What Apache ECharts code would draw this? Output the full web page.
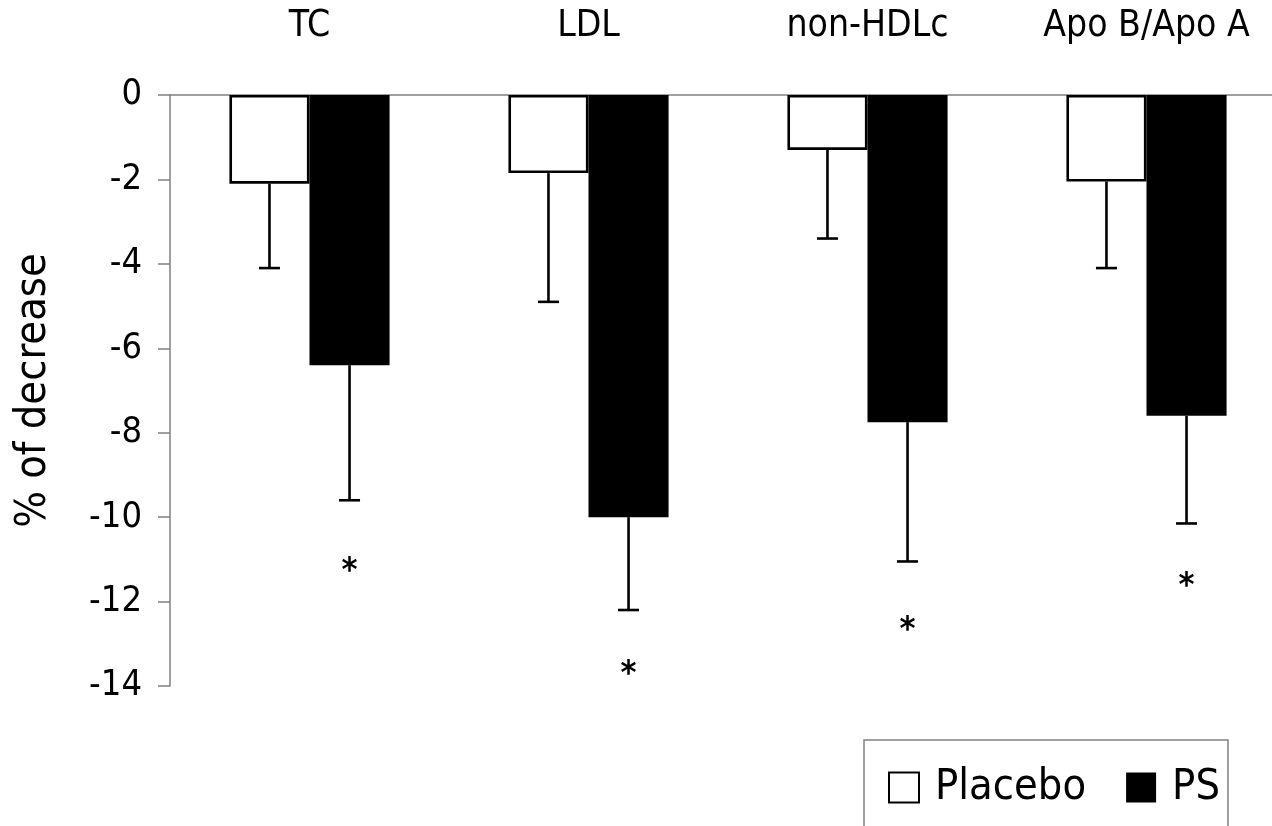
<!DOCTYPE html>
<html>
<head>
<meta charset="utf-8">
<script src="https://cdn.jsdelivr.net/npm/echarts@6/dist/echarts.min.js"></script>
<style>
  html, body { margin: 0; padding: 0; background: #fff; }
  #chart { width: 1272px; height: 826px; }
</style>
</head>
<body>
<div id="chart"></div>
<script>
// Lipid measures (percentage change from baseline)
const categories = ['TC', 'LDL', 'non-HDLc', 'Apo B/Apo A'];
const seriesNames = ['Placebo', 'PS'];
const placeboMean = [-2.1, -1.85, -1.3, -2.05];
const placeboErrorEnd = [-4.1, -4.9, -3.4, -4.1];
const psMean = [-6.4, -10.0, -7.75, -7.6];
const psErrorEnd = [-9.6, -12.2, -11.05, -10.15];
// Significance markers below the PS bars
const starLevel = [-11.3, -13.75, -12.7, -11.65];
const yTicks = { min: -14, max: 0, step: 2 };

const FONT = '"DejaVu Sans Condensed", "DejaVu Sans", sans-serif';
const CAT_GAP = 0.426;   // fraction of each category band left empty

const chart = echarts.init(document.getElementById('chart'), null, { renderer: 'canvas' });

// Offset of each bar centre from its category centre
function barOffset(api, seriesIdx) {
  const band = api.size([1, 0])[0];
  const barW = band * (1 - CAT_GAP) / 2;
  return seriesIdx === 0 ? -barW / 2 : barW / 2;
}

function errorBarItem(means, ends, seriesIdx) {
  return function (params, api) {
    const i = api.value(0);
    const dx = barOffset(api, seriesIdx);
    const top = api.coord([i, means[i]]);
    const bot = api.coord([i, ends[i]]);
    const x = top[0] + dx;
    const cap = 10.5;
    const style = { stroke: '#000', lineWidth: 2.6 };
    return {
      type: 'group',
      children: [
        { type: 'line', shape: { x1: x, y1: top[1], x2: x, y2: bot[1] }, style: style },
        { type: 'line', shape: { x1: x - cap, y1: bot[1], x2: x + cap, y2: bot[1] }, style: style }
      ]
    };
  };
}

function starItem(params, api) {
  const i = api.value(0);
  const p = api.coord([i, starLevel[i]]);
  return {
    type: 'text',
    x: p[0] + barOffset(api, 1),
    y: p[1],
    style: {
      text: '*', fill: '#000', font: 'bold 34px ' + FONT,
      align: 'center', verticalAlign: 'middle'
    }
  };
}

const idx = categories.map((c, i) => [i]);

const option = {
  animation: false,
  backgroundColor: '#fff',
  textStyle: { fontFamily: FONT, color: '#000' },
  grid: {
    left: 170, width: 1116, top: 95, bottom: 140,
    containLabel: false, outerBoundsMode: 'none'
  },
  legend: {
    data: seriesNames,
    left: 864, top: 740,
    orient: 'horizontal',
    itemWidth: 30, itemHeight: 30, itemGap: 40,
    icon: 'rect',
    padding: [26, 8, 40, 24],
    borderColor: '#808080', borderWidth: 1.5,
    textStyle: { fontSize: 43, fontFamily: FONT, color: '#000', padding: [0, 0, 0, 11] }
  },
  xAxis: {
    type: 'category',
    position: 'top',
    data: categories,
    axisLine: { show: true, lineStyle: { color: '#808080', width: 1.5 } },
    axisTick: { show: false },
    axisLabel: { fontSize: 37, color: '#000', margin: 50, fontFamily: FONT }
  },
  yAxis: {
    type: 'value',
    min: yTicks.min, max: yTicks.max, interval: yTicks.step,
    name: '% of decrease',
    nameLocation: 'middle',
    nameGap: 115,
    nameTextStyle: { fontSize: 43, color: '#000', fontFamily: FONT },
    axisLine: { show: true, lineStyle: { color: '#808080', width: 1.5 } },
    axisTick: { show: true, inside: false, length: 12, lineStyle: { color: '#808080', width: 1.5 } },
    axisLabel: { fontSize: 36, color: '#000', margin: 28, fontFamily: FONT },
    splitLine: { show: false }
  },
  series: [
    {
      name: seriesNames[0], type: 'bar', data: placeboMean,
      barGap: '0%', barCategoryGap: (CAT_GAP * 100) + '%',
      itemStyle: { color: '#fff', borderColor: '#000', borderWidth: 2.6 }
    },
    {
      name: seriesNames[1], type: 'bar', data: psMean,
      barGap: '0%', barCategoryGap: (CAT_GAP * 100) + '%',
      itemStyle: { color: '#000', borderColor: '#000', borderWidth: 0 }
    },
    {
      type: 'custom', data: idx, renderItem: errorBarItem(placeboMean, placeboErrorEnd, 0),
      encode: { x: 0 }, silent: true, z: 3
    },
    {
      type: 'custom', data: idx, renderItem: errorBarItem(psMean, psErrorEnd, 1),
      encode: { x: 0 }, silent: true, z: 3
    },
    {
      type: 'custom', data: idx, renderItem: starItem,
      encode: { x: 0 }, silent: true, z: 3
    }
  ]
};

chart.setOption(option);
</script>
</body>
</html>
